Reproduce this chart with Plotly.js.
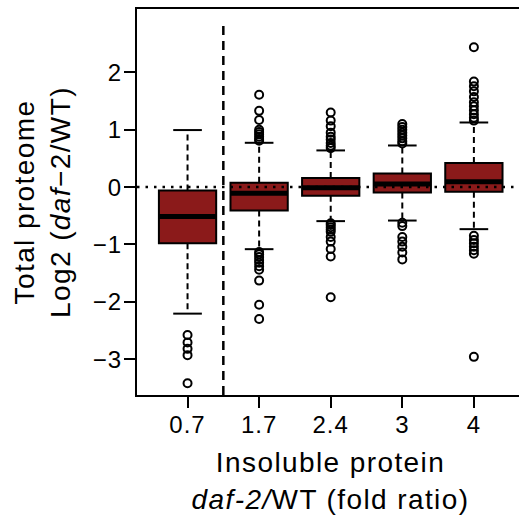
<!DOCTYPE html>
<html>
<head>
<meta charset="utf-8">
<script src="https://cdn.plot.ly/plotly-3.0.1.min.js"></script>
<style>
html, body { margin: 0; padding: 0; overflow: hidden; background: #fff; }
#chart { width: 530px; height: 523px; }
text.xtitle, text.ytitle { letter-spacing: 1.4px; }
g.xtick text, g.ytick text { letter-spacing: 1px; }
</style>
</head>
<body>
<div id="chart"></div>
<script>
// ---- data ----
const categories = ["0.7", "1.7", "2.4", "3", "4"];
const q1 = [-0.977, -0.408, -0.152, -0.094, -0.080];
const medians = [-0.513, -0.105, -0.010, 0.055, 0.095];
const q3 = [-0.060, 0.075, 0.157, 0.237, 0.419];
const lowerWhisker = [-2.206, -1.082, -0.593, -0.583, -0.733];
const upperWhisker = [0.995, 0.773, 0.640, 0.726, 1.127];
const outliers07 = [-2.58, -2.71, -2.82, -2.93, -3.42];
const outliers17 = [1.61, 1.33, 1.17, 1.00, 0.96, 0.92, 0.88, 0.84, 0.81,
                    -1.13, -1.17, -1.22, -1.27, -1.32, -1.38, -1.44, -1.63, -2.05, -2.30];
const outliers24 = [1.30, 1.16, 1.06, 0.95, 0.88, 0.83, 0.77, 0.72, 0.68,
                    -0.63, -0.66, -0.70, -0.74, -0.78, -0.87, -0.95, -1.08, -1.21, -1.92];
const outliers3 = [1.10, 1.05, 1.00, 0.95, 0.90, 0.85, 0.80, 0.76,
                   -0.62, -0.68, -0.87, -0.95, -1.04, -1.14, -1.26];
const outliers4 = [2.44, 1.84, 1.76, 1.67, 1.57, 1.48, 1.41, 1.34, 1.27, 1.21, 1.16,
                   -0.85, -0.92, -0.98, -1.04, -1.10, -1.16, -2.96];
const yTicks = [-3, -2, -1, 0, 1, 2];

// ---- styling constants ----
const FILL = "#8B1A1A";
const BOXW = 0.8;      // box width in category units
const CAPHALF = 0.2;   // half width of whisker caps
const FONT = "Liberation Sans, Arial, Helvetica, sans-serif";

const idx = categories.map((_, i) => i);
const outlierGroups = [outliers07, outliers17, outliers24, outliers3, outliers4];

// whiskers (dashed)
const wx = [], wy = [];
idx.forEach(i => {
  wx.push(i, i, null, i, i, null);
  wy.push(q3[i], upperWhisker[i], null, q1[i], lowerWhisker[i], null);
});
// caps
const cx = [], cy = [];
idx.forEach(i => {
  cx.push(i - CAPHALF, i + CAPHALF, null, i - CAPHALF, i + CAPHALF, null);
  cy.push(upperWhisker[i], upperWhisker[i], null, lowerWhisker[i], lowerWhisker[i], null);
});
// medians (thick)
const mx = [], my = [];
idx.forEach(i => {
  mx.push(i - BOXW / 2, i + BOXW / 2, null);
  my.push(medians[i], medians[i], null);
});
// outliers
const ox = [], oy = [];
outlierGroups.forEach((g, i) => g.forEach(v => { ox.push(i); oy.push(v); }));

const traces = [
  {
    type: "scatter", mode: "lines", x: wx, y: wy, hoverinfo: "skip",
    line: { color: "#000", width: 2, dash: "6px,4px" }, showlegend: false
  },
  {
    type: "scatter", mode: "lines", x: cx, y: cy, hoverinfo: "skip",
    line: { color: "#000", width: 2 }, showlegend: false
  },
  {
    type: "box", x: idx, q1: q1, median: medians, q3: q3,
    lowerfence: q1, upperfence: q3, width: BOXW, whiskerwidth: 0,
    fillcolor: FILL, line: { color: "#000", width: 2 },
    boxpoints: false, showlegend: false, hoverinfo: "skip"
  },
  {
    type: "scatter", mode: "lines", x: mx, y: my, hoverinfo: "skip",
    line: { color: "#000", width: 5 }, showlegend: false
  },
  {
    type: "scatter", mode: "markers", x: ox, y: oy, hoverinfo: "skip",
    marker: { symbol: "circle-open", size: 8, color: "#000", line: { width: 2, color: "#000" } },
    showlegend: false
  }
];

const layout = {
  width: 530, height: 523,
  margin: { l: 137, r: 6, t: 9, b: 128 },
  paper_bgcolor: "#fff", plot_bgcolor: "#fff",
  font: { family: FONT, color: "#000" },
  showlegend: false,
  xaxis: {
    range: [-0.706, 4.7],
    tickvals: idx, ticktext: categories,
    ticks: "outside", ticklen: 11, tickwidth: 2, tickcolor: "#000",
    tickfont: { size: 24, family: FONT }, ticklabelstandoff: -4,
    showline: true, mirror: true, linecolor: "#000", linewidth: 2,
    showgrid: false, zeroline: false,
    title: {
      text: "Insoluble protein<br><i>daf-2/</i>WT (fold ratio)",
      font: { size: 28, family: FONT }, standoff: 16
    }
  },
  yaxis: {
    range: [-3.625, 3.106],
    tickvals: yTicks,
    ticks: "outside", ticklen: 11, tickwidth: 2, tickcolor: "#000",
    tickfont: { size: 24, family: FONT }, ticklabelstandoff: -3,
    showline: true, mirror: true, linecolor: "#000", linewidth: 2,
    showgrid: false, zeroline: false,
    title: {
      text: "Total proteome<br>Log2 (<i>daf</i>\u22122/WT)",
      font: { size: 28, family: FONT }, standoff: 14
    }
  },
  shapes: [
    {
      type: "line", layer: "above", xref: "paper", yref: "y",
      x0: 0, x1: 1, y0: 0, y1: 0,
      line: { color: "#000", width: 2.5, dash: "2.5px,6px" }
    },
    {
      type: "line", layer: "above", xref: "x", yref: "paper",
      x0: (idx[0] + idx[1]) / 2, x1: (idx[0] + idx[1]) / 2, y0: 0, y1: 0.97,
      line: { color: "#000", width: 2.5, dash: "9px,6px" }
    }
  ]
};

Plotly.newPlot("chart", traces, layout, { displayModeBar: false, staticPlot: true });
</script>
</body>
</html>
